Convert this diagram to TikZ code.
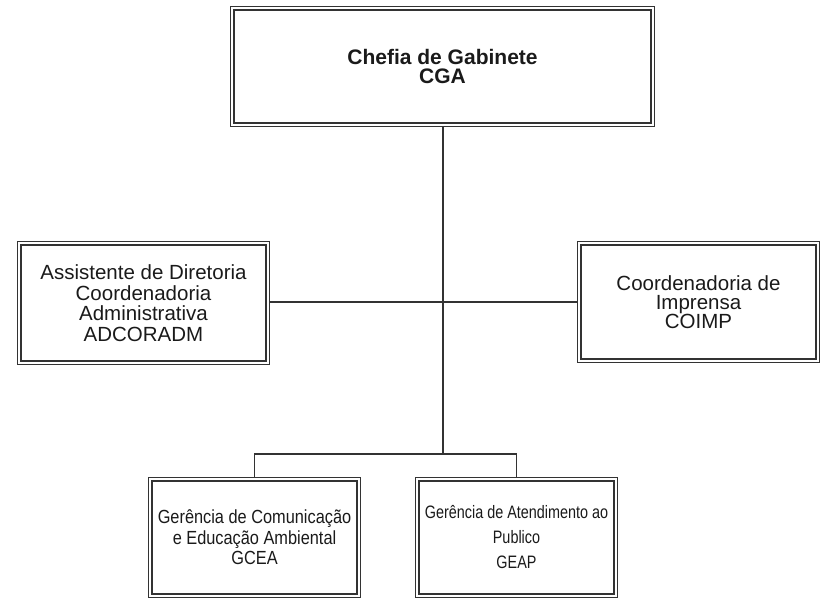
\documentclass[tikz,border=0pt]{standalone}
\usepackage{fontspec}
\setmainfont{Liberation Sans}
\newfontfamily\narrowA[FakeStretch=0.86]{Liberation Sans}
\newfontfamily\narrowB[FakeStretch=0.8]{Liberation Sans}
\definecolor{linecol}{HTML}{333333}
\definecolor{txtcol}{HTML}{1A1A1A}
\tikzset{
  orgbox/.style={draw=linecol, double=white, double distance=2.2pt, line width=1.2pt,
    rectangle, align=center, inner sep=0pt, outer sep=2.3pt, text=txtcol},
  conn/.style={draw=linecol, line width=1.4pt}
}
\begin{document}
\begin{tikzpicture}[x=1pt,y=-1pt]
\useasboundingbox (0,0) rectangle (829,603);
\node[orgbox, minimum width=420.4pt, minimum height=116.4pt,
  font=\fontsize{21}{19}\selectfont\bfseries] (cga) at (442.5,66.5)
  {Chefia de Gabinete\\CGA};
\node[orgbox, minimum width=248.4pt, minimum height=119.4pt,
  font=\fontsize{20.5}{20.5}\selectfont] (adc) at (143.5,303)
  {Assistente de Diretoria\\Coordenadoria\\Administrativa\\ADCORADM};
\node[orgbox, minimum width=238.4pt, minimum height=117.4pt,
  font=\fontsize{20.5}{19}\selectfont] (coimp) at (698.5,302)
  {Coordenadoria de\\Imprensa\\COIMP};
\node[orgbox, minimum width=208.4pt, minimum height=116.4pt,
  font=\narrowA\fontsize{19}{20.5}\selectfont] (gcea) at (254.5,537.5)
  {Gerência de Comunicação\\e Educação Ambiental\\GCEA};
\node[orgbox, minimum width=198.4pt, minimum height=116.4pt,
  font=\narrowB\fontsize{18}{25}\selectfont] (geap) at (516.5,537.5)
  {Gerência de Atendimento ao\\Publico\\GEAP};
\coordinate (j1) at (443,302);
\coordinate (j2) at (443,454);
\draw[conn] (cga.south -| j2) -- (j2);
\draw[conn] (j1 -| adc.east) -- (j1 -| coimp.west);
\draw[conn] (j2) -| (gcea.north);
\draw[conn] (j2) -| (geap.north);
\end{tikzpicture}
\end{document}
